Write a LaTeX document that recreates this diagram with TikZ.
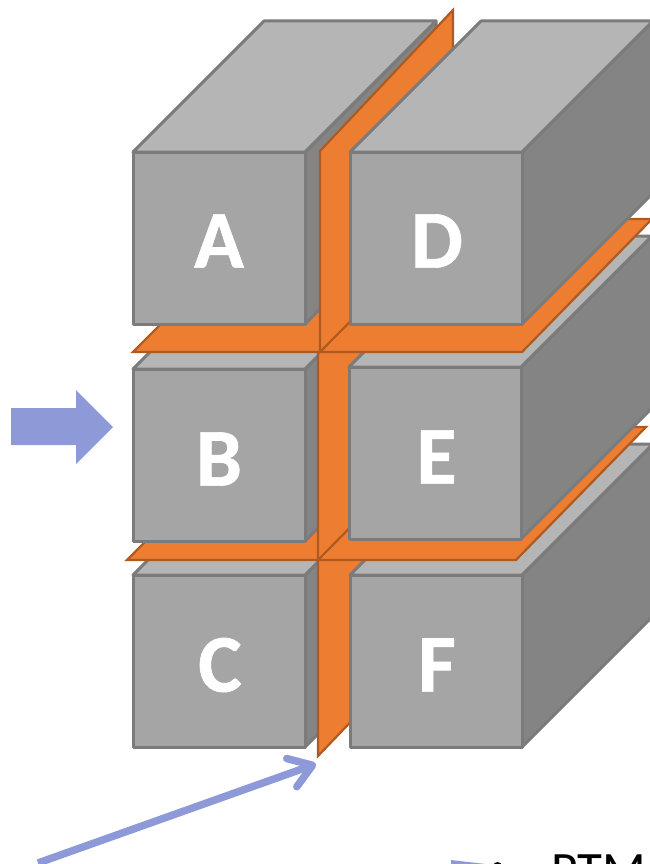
\documentclass[tikz,border=0pt]{standalone}
\usepackage{fontspec}
\setmainfont{Carlito}[BoldFeatures={FakeBold=0.8}]
\usetikzlibrary{arrows.meta}

\definecolor{topgray}{HTML}{B5B5B5}
\definecolor{frontgray}{HTML}{A5A5A5}
\definecolor{sidegray}{HTML}{848484}
\definecolor{edgegray}{HTML}{7B7B7B}
\definecolor{sheetorange}{HTML}{ED7D31}
\definecolor{sheetedge}{HTML}{AE5A21}
\definecolor{arrowblue}{HTML}{8E9AD8}

\tikzset{
  topface/.style={draw=edgegray,fill=topgray,line width=3pt,line join=round},
  frontface/.style={draw=edgegray,fill=frontgray,line width=3pt,line join=round},
  sideface/.style={draw=edgegray,fill=sidegray,line width=3pt,line join=round},
  sheet/.style={draw=sheetedge,fill=sheetorange,line width=2.2pt,line join=miter},
  letter/.style={text=white,font=\fontsize{82}{82}\selectfont\bfseries,inner sep=0pt},
}

\begin{document}
\begin{tikzpicture}[x=1pt,y=-1pt]

\useasboundingbox (0,0) rectangle (650,864);
\clip (0,0) rectangle (650,864);

%% cuboid: left, top, width
\newcommand\CUBOID[3]{
  \draw[sideface] (#1+#3,#2) -- (#1+#3+131,#2-131) -- (#1+#3+131,#2+#3-131) -- (#1+#3,#2+#3) -- cycle;
  \draw[topface] (#1,#2) -- (#1+131,#2-131) -- (#1+#3+131,#2-131) -- (#1+#3,#2) -- cycle;
  \draw[frontface] (#1,#2) rectangle (#1+#3,#2+#3);
}

%% left column
\CUBOID{133}{575}{172}
\draw[sheet] (127,560) -- (318,560) -- (449,427) -- (259,427) -- cycle;
\CUBOID{133}{369}{172}
\draw[sheet] (133,352) -- (320,352) -- (452,219) -- (265,219) -- cycle;
\CUBOID{133}{152}{172}

%% upright sheet
\draw[sheet] (320,151) -- (453,10) -- (453,615) -- (318,756) -- (318,353) -- (320,352) -- cycle;

%% right column
\CUBOID{350}{575}{172}
\draw[sheet] (318,560) -- (516,560) -- (646,427) -- (449,427) -- cycle;
\CUBOID{349}{367}{172}
\draw[sheet] (320,352) -- (522,352) -- (652,219) -- (452,219) -- cycle;
\CUBOID{350}{152}{172}

%% labels
\node[letter] (boxa) at (219,241) {A};
\node[letter] (boxb) at (219,459) {B};
\node[letter] (boxc) at (220,665) {C};
\node[letter] (boxd) at (437,241) {D};
\node[letter] (boxe) at (436.5,457) {E};
\node[letter] (boxf) at (437,665) {F};

%% arrows
\fill[arrowblue] (11,408) -- (76,408) -- (76,390) -- (113,427) -- (76,464) -- (76,445) -- (11,445) -- cycle;

\coordinate (tailin) at (38,863);
\coordinate (tipin) at (316,764);
\draw[arrowblue,line width=7.5pt,-{Straight Barb[length=22pt,width=30pt,round]}] (tailin) -- (tipin);

\fill[arrowblue] (451,860) -- (490,864.5) -- (451,870) -- cycle;

\node[text=black,font=\fontsize{51}{51}\selectfont,anchor=base west,inner sep=0pt] (ptm) at (551,887) {PTM};
\fill[black] (497.5,866.5) circle (4.5pt);

\end{tikzpicture}
\end{document}
